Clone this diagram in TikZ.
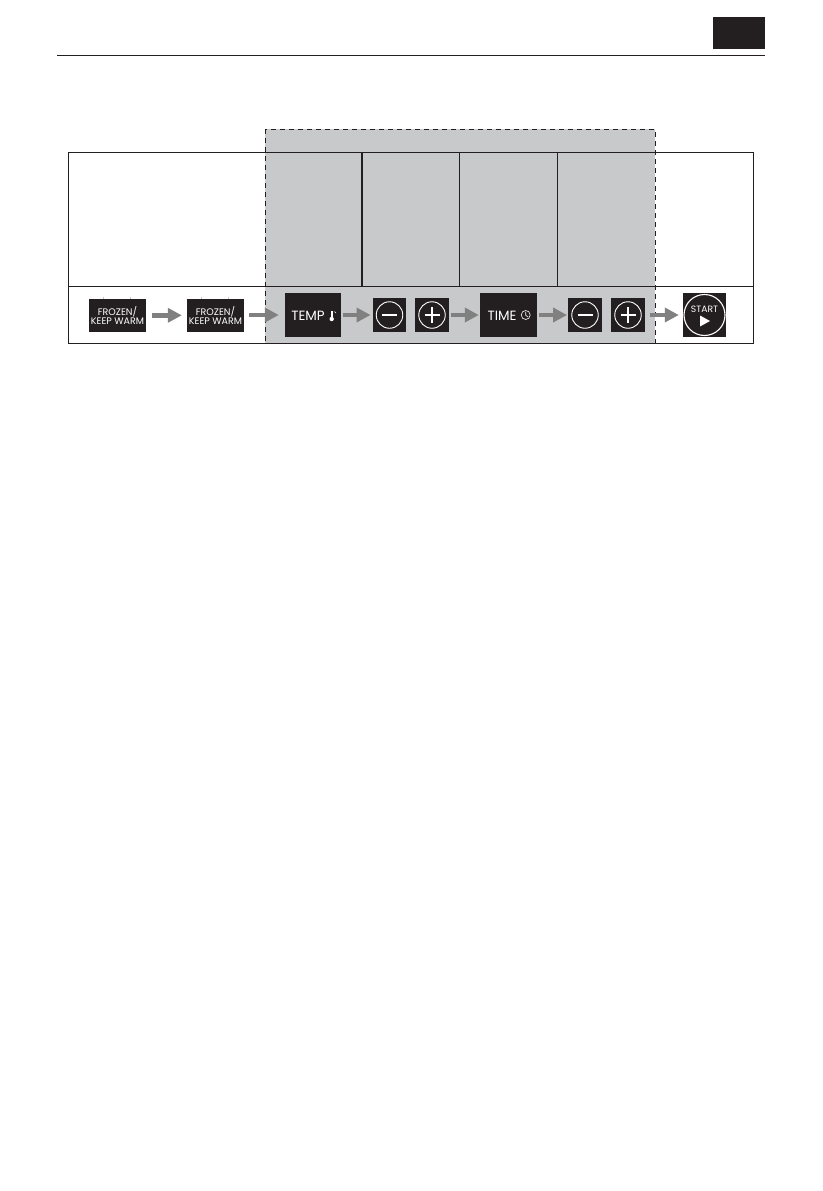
\documentclass[tikz,border=0pt]{standalone}
\usepackage{fontspec}
\setmainfont{Poppins}
\usetikzlibrary{arrows.meta}
\definecolor{panelgray}{RGB}{200,201,203}
\definecolor{keyblack}{RGB}{35,31,32}
\definecolor{arrowgray}{RGB}{128,128,128}
\tikzset{
    keybtn/.style={fill=keyblack, text=white, inner sep=0pt, align=center, minimum width=#1},
    widekey/.style={keybtn=57pt, minimum height=33pt, font=\fontsize{9.5}{8.6}\selectfont},
    tallkey/.style={keybtn=#1, minimum height=44pt},
    signkey/.style={keybtn=33.5pt, minimum height=33.5pt},
    keytext/.style={text=white, inner sep=0pt, font=\fontsize{13.4}{14}\selectfont},
    ring/.style={draw=white, line width=0.9pt, circle, minimum size=#1, inner sep=0pt},
    flowarrow/.style={draw=arrowgray, line width=4.5pt, -{Triangle[length=14pt,width=14pt]}}
}
\begin{document}
\begin{tikzpicture}[x=1pt,y=-1pt]
    \useasboundingbox (0,0) rectangle (822,1191);
    \fill[white] (0,0) rectangle (822,1191);
    % page header
    \fill[keyblack] (713,17) rectangle (765,49);
    \draw[line width=1pt, keyblack] (57,55.3) -- (765,55.3);
    % shaded part
    \fill[panelgray] (265,129) rectangle (655,343);
    % table
    \draw[line width=1pt, keyblack] (68,152.7) rectangle (753.5,343);
    \draw[line width=1pt, keyblack] (68,286) -- (753.5,286);
    \draw[line width=1.8pt, keyblack] (361.7,152.7) -- (361.7,286);
    \foreach \x in {459.3,557.3}
        \draw[line width=1pt, keyblack] (\x,152.7) -- (\x,286);
    \draw[line width=1pt, keyblack, dash pattern=on 5pt off 4pt] (265,129) rectangle (655,343);
    % keys
    \node[widekey] (frozenA) at (117.5,315.3) {FROZEN/\\KEEP WARM};
    \node[widekey] (frozenB) at (215.5,315.3) {FROZEN/\\KEEP WARM};
    \node[tallkey=56pt] (temp) at (313,315) {};
    \node[signkey] (minusA) at (389.5,315) {};
    \node[signkey] (plusA) at (432,315) {};
    \node[tallkey=57pt] (timekey) at (508.5,315) {};
    \node[signkey] (minusB) at (585,315) {};
    \node[signkey] (plusB) at (628,315) {};
    \node[tallkey=43pt] (start) at (704.5,315) {};
    \foreach \x in {103,130,201,228}
        \draw[line width=0.4pt, panelgray] (\x,296.5) -- (\x,299);
    % key labels
    \node[keytext] (templabel) at (308,315.5) {TEMP};
    \node[keytext] (timelabel) at (502,315.5) {TIME};
    % thermometer
    \draw[white, line width=1.6pt] (331.7,311) -- (331.7,318);
    \fill[white] (331.7,319) circle (2.2pt);
    \draw[white, line width=0.5pt] (334.5,311.5) -- (336,313);
    % clock
    \node[ring=9pt, line width=0.6pt] (clock) at (525.7,315) {};
    \draw[white, line width=0.6pt] (525.7,311.8) -- (525.7,315.3) -- (528,316.8);
    % minus and plus signs
    \foreach \k in {minusA,minusB,plusA,plusB}
        \node[ring=26.5pt] (\k ring) at (\k) {};
    \foreach \k in {minusA,minusB,plusA,plusB}
        \draw[white, line width=1.4pt] ([xshift=-7.5pt]\k.center) -- ([xshift=7.5pt]\k.center);
    \foreach \k in {plusA,plusB}
        \draw[white, line width=1.4pt] ([yshift=-8pt]\k.center) -- ([yshift=8pt]\k.center);
    % start
    \node[ring=41pt, line width=1.1pt] (startring) at (start) {};
    \node[text=white, font=\fontsize{9.2}{10}\selectfont, inner sep=0pt] (startlabel) at (704.5,309.5) {START};
    \fill[white] (700,315.5) -- (710,321) -- (700,326.5) -- cycle;
    % arrows
    \draw[flowarrow, shorten <=6pt, shorten >=5pt] (frozenA) -- (frozenB);
    \draw[flowarrow, shorten <=5pt, shorten >=6pt] (frozenB.east |- temp) -- (temp);
    \draw[flowarrow, shorten <=2pt, shorten >=2pt] (temp) -- (minusA);
    \draw[flowarrow, shorten <=2pt, shorten >=1pt] (plusA) -- (timekey);
    \draw[flowarrow, shorten <=2pt, shorten >=1pt] (timekey) -- (minusB);
    \draw[flowarrow, shorten <=5pt, shorten >=4pt] (plusB) -- (start);
\end{tikzpicture}
\end{document}
